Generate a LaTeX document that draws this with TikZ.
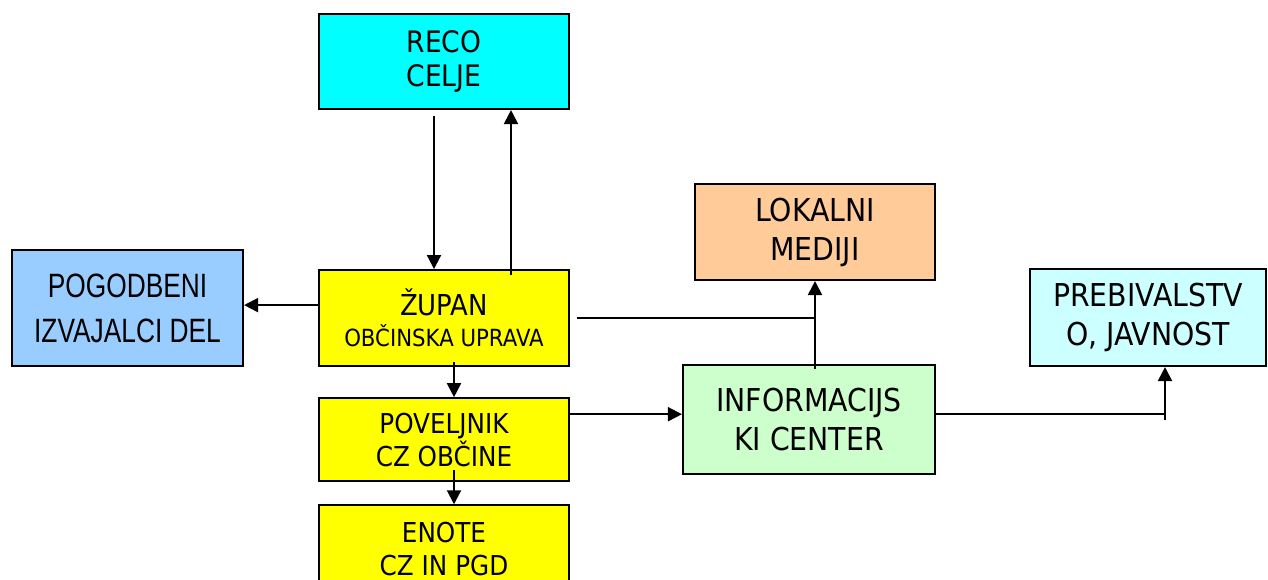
\documentclass[tikz,border=0pt]{standalone}
\usepackage{fontspec}
\setmainfont[FakeStretch=0.9]{DejaVu Sans}
\newfontfamily\narrowfont[FakeStretch=0.78]{Liberation Sans}
\usetikzlibrary{arrows.meta,positioning,calc}

\definecolor{recocyan}{HTML}{00FFFF}
\definecolor{unityellow}{HTML}{FFFF00}
\definecolor{contractblue}{HTML}{99CCFF}
\definecolor{mediaorange}{HTML}{FFCC99}
\definecolor{infogreen}{HTML}{CCFFCC}
\definecolor{publiccyan}{HTML}{CCFFFF}

\tikzset{
	unit/.style={
		rectangle, draw=black, line width=1.5pt, align=center,
		minimum width=6.25cm, inner sep=0pt,
		font=\fontsize{19.5}{23.6}\selectfont
	},
	%
	bigunit/.style={
		unit, font=\fontsize{22.4}{27.7}\selectfont
	},
	%
	flow/.style={
		line width=1.4pt, -{Triangle[length=0.35cm,width=0.35cm]}
	},
	%
	plainline/.style={
		line width=1.4pt
	}
}

\begin{document}
\begin{tikzpicture}
    \useasboundingbox (0,0) rectangle (31.7,-14.5);
    \node(reco)[unit, fill=recocyan, minimum height=2.375cm, font=\fontsize{21}{24}\selectfont] at (11.1,-1.5375){RECO\\CELJE};
    \node(zupan)[unit, fill=unityellow, minimum height=2.4cm, below=3.975cm of reco, font=\fontsize{20.5}{24}\selectfont]{\v{Z}UPAN\\[-2pt]{\fontsize{16.8}{20}\selectfont OB\v{C}INSKA UPRAVA}};
    \node(povelj)[unit, fill=unityellow, minimum height=2.075cm, below=0.75cm of zupan]{POVELJNIK\\CZ OB\v{C}INE};
    \node(enote)[unit, fill=unityellow, minimum height=2.2cm, below=0.55cm of povelj]{ENOTE\\CZ IN PGD};
    \node(pogod)[unit, fill=contractblue, minimum width=5.775cm, minimum height=2.9cm, font=\narrowfont\fontsize{24}{32}\selectfont] at (3.1875,-7.7){POGODBENI\\IZVAJALCI DEL};
    \node(lokal)[bigunit, fill=mediaorange, minimum width=6cm, minimum height=2.4cm] at (20.375,-5.8){LOKALNI\\MEDIJI};
    \node(info)[bigunit, fill=infogreen, minimum width=6.3cm, minimum height=2.725cm] at (20.225,-10.4875){INFORMACIJS\\KI CENTER};
    \node(preb)[bigunit, fill=publiccyan, minimum width=5.9cm, minimum height=2.425cm] at (28.7,-7.9375){PREBIVALSTV\\O, JAVNOST};
    % connections
    \draw[flow] ([xshift=-0.25cm, yshift=-0.15cm]reco.south) -- ([xshift=-0.25cm]zupan.north);
    \draw[flow] ([xshift=1.675cm, yshift=-0.15cm]zupan.north) -- ([xshift=1.675cm]reco.south);
    \draw[flow] ([yshift=0.325cm]zupan.west) -- ([yshift=0.325cm]zupan.west -| pogod.east);
    \draw[flow] ([xshift=0.25cm, yshift=0.125cm]zupan.south) -- ([xshift=0.25cm]povelj.north);
    \draw[flow] ([xshift=0.25cm, yshift=0.3cm]povelj.south) -- ([xshift=0.25cm]enote.north);
    \draw[flow] ([yshift=0.6375cm]povelj.east) -- ([yshift=0.6375cm]povelj.east -| info.west);
    \draw[flow] ($(info.north -| lokal.south)+(0,-0.125)$) -- (lokal.south);
    \draw[plainline] ([xshift=0.175cm]zupan.east) -- (zupan.east -| lokal.south);
    \draw[flow] ([yshift=0.1375cm]info.east) -| ([xshift=0.425cm]preb.south);
    \draw[plainline] ([xshift=0.425cm]preb.south |- info.east) -- ++(0,0.1375);
\end{tikzpicture}
\end{document}
